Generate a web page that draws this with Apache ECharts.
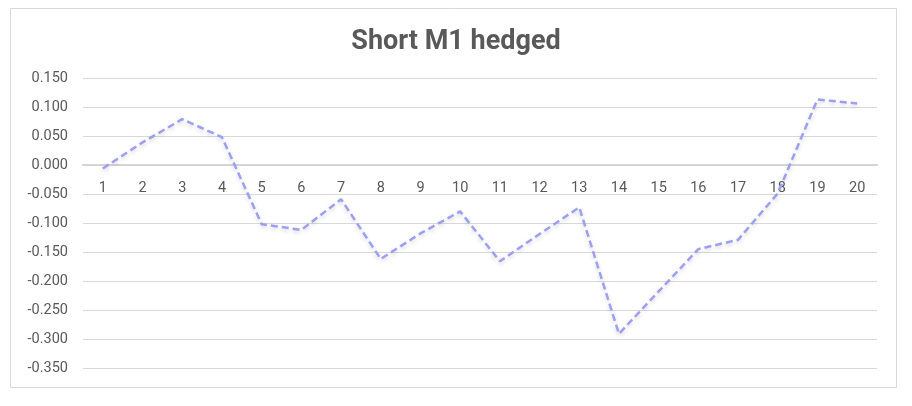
<!DOCTYPE html>
<html>
<head>
<meta charset="utf-8">
<script src="https://cdn.jsdelivr.net/npm/echarts@6/dist/echarts.min.js"></script>
<style>html,body{margin:0;padding:0;background:#fff}#c{width:912px;height:406px}</style>
</head>
<body>
<div id="c"></div>
<script>
var categories = ['1','2','3','4','5','6','7','8','9','10','11','12','13','14','15','16','17','18','19','20'];
var values = [-0.006, 0.039, 0.079, 0.048, -0.102, -0.112, -0.059, -0.162, -0.118, -0.080, -0.166, -0.119, -0.073, -0.291, -0.218, -0.145, -0.129, -0.049, 0.113, 0.106];
var yMin = -0.35, yMax = 0.15, yStep = 0.05;
var title = 'Short M1 hedged';

var gridTop = 78, gridBottom = 38, H = 406;
var gridH = H - gridTop - gridBottom;
var zeroOffset = -gridH * (0 - yMin) / (yMax - yMin);

var chart = echarts.init(document.getElementById('c'));
chart.setOption({
  animation: false,
  backgroundColor: '#ffffff',
  title: {
    text: title,
    left: 'center',
    top: 29,
    padding: 0,
    textStyle: { fontFamily: 'Roboto', fontWeight: 'bold', fontSize: 27, color: '#595959' }
  },
  graphic: [{
    type: 'rect',
    shape: { x: 10.5, y: 8.5, width: 886, height: 379 },
    style: { fill: 'none', stroke: '#d9d9d9', lineWidth: 1 },
    silent: true
  }],
  grid: { left: 83, right: 35, top: gridTop, bottom: gridBottom, containLabel: false },
  xAxis: {
    type: 'category',
    data: categories,
    boundaryGap: true,
    offset: zeroOffset,
    axisTick: { show: false },
    axisLine: { show: true, onZero: false, lineStyle: { color: '#d4d4d4', width: 2 } },
    axisLabel: { color: '#595959', fontFamily: 'Roboto', fontSize: 14.5, margin: 16 },
    splitLine: { show: false }
  },
  yAxis: {
    type: 'value',
    min: yMin, max: yMax, interval: yStep,
    axisLine: { show: false },
    axisTick: { show: false },
    axisLabel: {
      color: '#595959', fontFamily: 'Roboto', fontSize: 14.5, margin: 15,
      formatter: function (v) { if (Math.abs(v) < 1e-9) v = 0; return v.toFixed(3); }
    },
    splitLine: { show: true, lineStyle: { color: '#d9d9d9', width: 1 } }
  },
  series: [{
    type: 'line',
    data: values,
    symbol: 'none',
    smooth: false,
    lineStyle: {
      color: '#9da0f0', width: 2.5, type: [7, 4],
      shadowColor: 'rgba(0,0,0,0.18)', shadowBlur: 4, shadowOffsetY: 2
    },
    z: 3
  }]
});
</script>
</body>
</html>
